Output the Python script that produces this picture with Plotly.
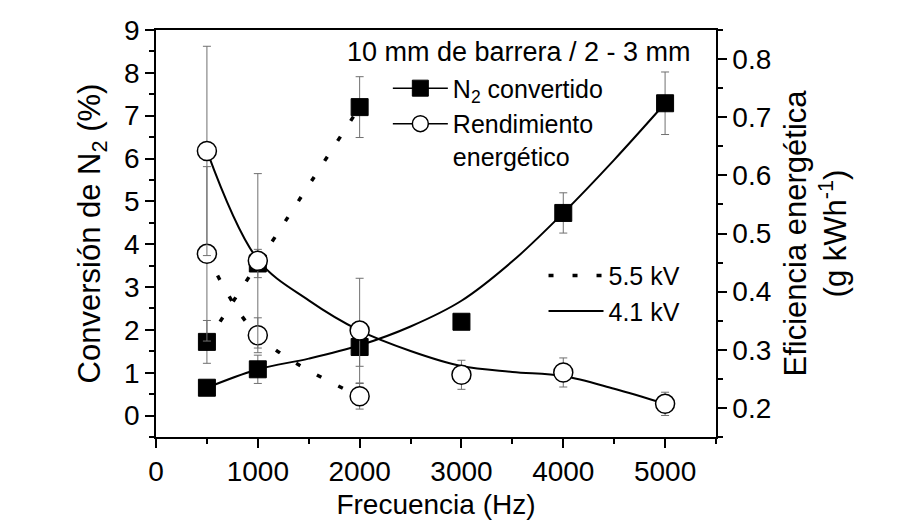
import plotly.graph_objects as go

# ---- datos ----
freq_55 = [500, 1000, 2000]
n2_55 = [1.72, 3.55, 7.2]
n2_55_err = [0.5, 0.33, 0.71]
eff_55 = [0.465, 0.325, 0.22]
eff_55_err = [0.15, 0.03, 0.022]

freq_41 = [500, 1000, 2000, 3000, 4000, 5000]
n2_41 = [0.65, 1.08, 1.6, 2.19, 4.73, 7.29]
n2_41_err = [0.05, 0.33, 0.45, 0.1, 0.47, 0.73]
eff_41 = [0.642, 0.453, 0.333, 0.257, 0.261, 0.207]
eff_41_err = [0.18, 0.15, 0.09, 0.025, 0.025, 0.02]

# curvas de ajuste (4.1 kV)
freq_fit = [500, 1000, 1500, 2000, 2500, 3000, 3500, 4000, 4500, 5000]
n2_fit = [0.65, 1.08, 1.33, 1.64, 2.08, 2.68, 3.6, 4.73, 5.97, 7.29]
eff_fit = [0.642, 0.455, 0.385, 0.333, 0.298, 0.272, 0.262, 0.255, 0.233, 0.207]

x_ticks = [0, 1000, 2000, 3000, 4000, 5000]

FONT = "Liberation Sans, Arial, sans-serif"
ERR = "#707070"
DOT = dict(color="black", width=3.5, dash="5px,19px")
SOLID = dict(color="black", width=2)

sq = dict(symbol="square", size=17, color="black", line=dict(color="black", width=1))
ci = dict(symbol="circle", size=19, color="white", line=dict(color="black", width=1.5))

fig = go.Figure()

# lineas
fig.add_trace(go.Scatter(x=freq_55, y=n2_55, mode="lines", line=DOT,
                         line_shape="spline", showlegend=False))
fig.add_trace(go.Scatter(x=freq_55, y=eff_55, mode="lines", line=DOT,
                         line_shape="spline", yaxis="y2", showlegend=False))
fig.add_trace(go.Scatter(x=freq_fit, y=n2_fit, mode="lines", line=SOLID,
                         line_shape="spline", showlegend=False))
fig.add_trace(go.Scatter(x=freq_fit, y=eff_fit, mode="lines", line=SOLID,
                         line_shape="spline", yaxis="y2", showlegend=False))

# puntos con barras de error
def eb(arr):
    return dict(type="data", array=arr, color=ERR, thickness=1, width=4)

fig.add_trace(go.Scatter(x=freq_55, y=eff_55, mode="markers", marker=ci,
                         error_y=eb(eff_55_err), yaxis="y2", showlegend=False))
fig.add_trace(go.Scatter(x=freq_41, y=eff_41, mode="markers", marker=ci,
                         error_y=eb(eff_41_err), yaxis="y2", showlegend=False))
fig.add_trace(go.Scatter(x=freq_55, y=n2_55, mode="markers", marker=sq,
                         error_y=eb(n2_55_err), showlegend=False))
fig.add_trace(go.Scatter(x=freq_41, y=n2_41, mode="markers", marker=sq,
                         error_y=eb(n2_41_err), showlegend=False))

# entradas de leyenda
fig.add_trace(go.Scatter(x=[None], y=[None], mode="lines+markers", marker=sq,
                         line=dict(color="black", width=1.5),
                         name="N<sub>2</sub> convertido", legend="legend"))
fig.add_trace(go.Scatter(x=[None], y=[None], mode="lines+markers", marker=ci,
                         line=dict(color="black", width=1.5),
                         name="Rendimiento<br>energético", legend="legend"))
fig.add_trace(go.Scatter(x=[None], y=[None], mode="lines", line=DOT,
                         name="5.5 kV", legend="legend2"))
fig.add_trace(go.Scatter(x=[None], y=[None], mode="lines", line=SOLID,
                         name="4.1 kV", legend="legend2"))

axis_common = dict(showline=True, linecolor="black", linewidth=1.5,
                   ticks="outside", ticklen=9, tickwidth=1.5, tickcolor="black",
                   showgrid=False, zeroline=False, automargin=False,
                   tickfont=dict(size=28, family=FONT, color="black"))

fig.update_layout(
    width=905, height=528,
    margin=dict(l=148, r=197, t=22, b=99),
    plot_bgcolor="white", paper_bgcolor="white",
    font=dict(family=FONT, color="black", size=25),
    xaxis=dict(**axis_common, range=[0, 5500], tickvals=x_ticks, mirror=True,
               minor=dict(dtick=500, ticks="outside", ticklen=5, tickcolor="black"),
               title=dict(text="Frecuencia (Hz)", font=dict(size=28), standoff=8)),
    yaxis=dict(**axis_common, range=[-0.5, 9], dtick=1, tick0=0,
               minor=dict(dtick=0.5, ticks="outside", ticklen=5, tickcolor="black"),
               title=dict(text="Conversión de N<sub>2</sub> (%)", font=dict(size=31), standoff=14)),
    yaxis2=dict(**axis_common, range=[0.15, 0.85], dtick=0.1, tick0=0.2,
                tickformat=".1f", overlaying="y", side="right",
                minor=dict(dtick=0.05, ticks="outside", ticklen=5, tickcolor="black"),
                title=dict(text="Eficiencia energética<br>(g kWh<sup>-1</sup>)",
                           font=dict(size=31), standoff=14)),
    legend=dict(x=0.414, y=0.913, xanchor="left", yanchor="top", itemwidth=55,
                bgcolor="rgba(0,0,0,0)", valign="top", font=dict(size=25)),
    legend2=dict(x=0.692, y=0.453, xanchor="left", yanchor="top", itemwidth=55,
                 bgcolor="rgba(0,0,0,0)", font=dict(size=25)),
    annotations=[dict(text="10 mm de barrera / 2 - 3 mm", xref="paper", yref="paper",
                      x=(511 - 148) / 560, y=(429.3 - 44) / 407.6,
                      xanchor="center", yanchor="middle", showarrow=False,
                      font=dict(size=27))],
)

fig.write_html("out.html")
